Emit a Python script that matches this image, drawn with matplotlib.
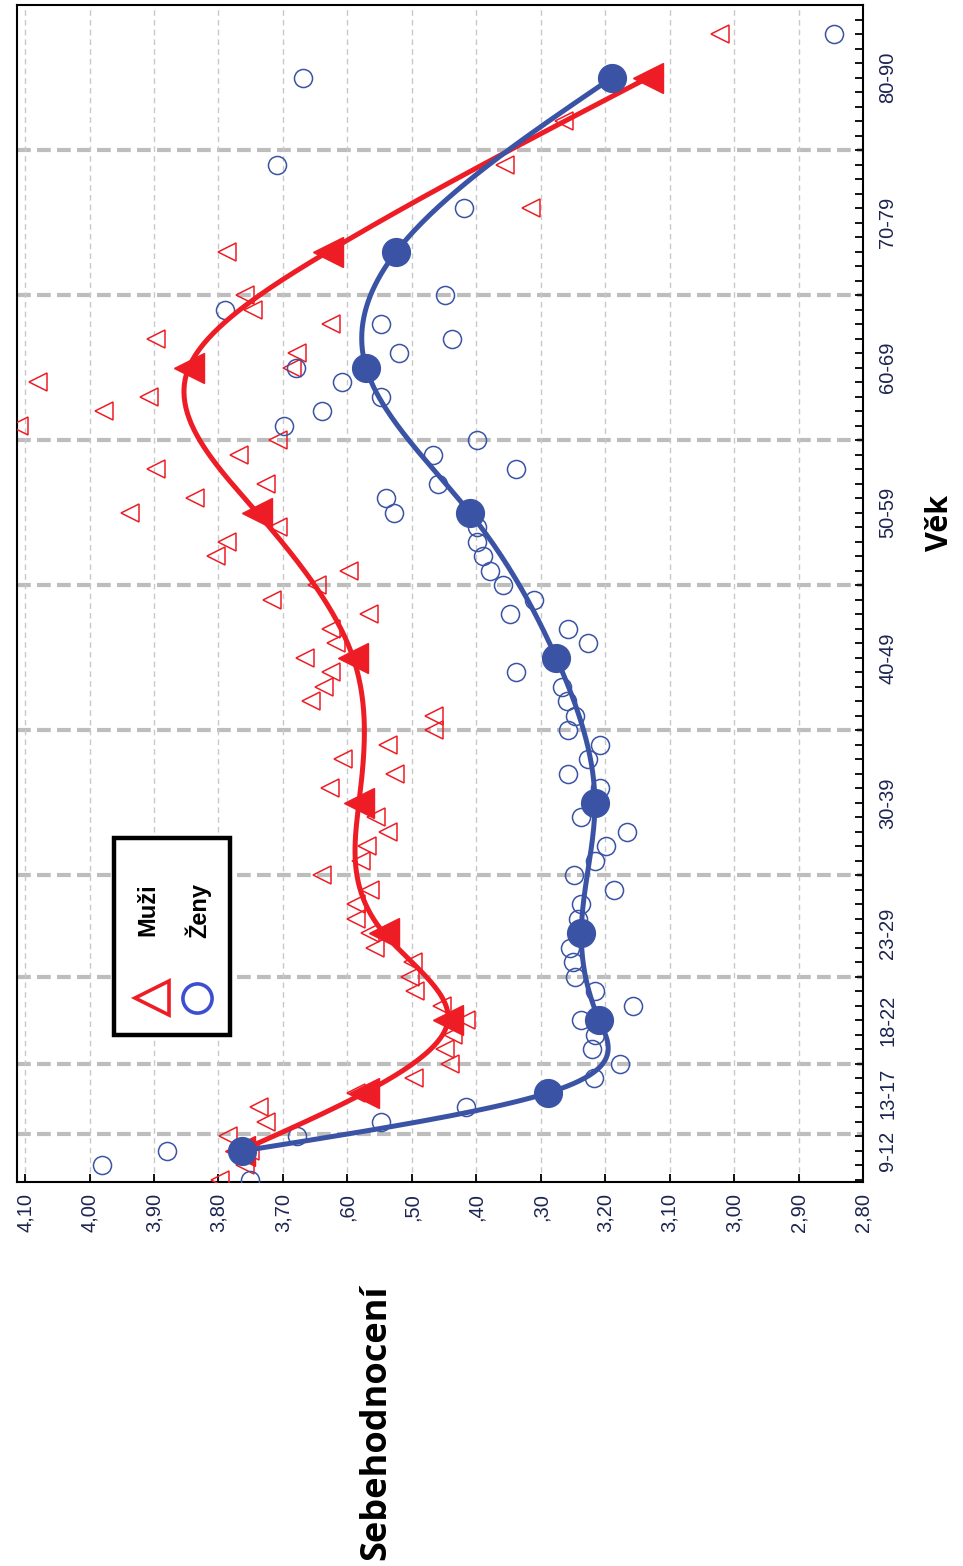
import numpy as np
import matplotlib
matplotlib.use('Agg')
from matplotlib import pyplot as plt
from matplotlib.patches import Rectangle

plt.rcParams['font.family'] = ['Liberation Sans', 'DejaVu Sans']

# single points (age, self-esteem score)
muzi_age = list(range(9, 71)) + [73, 76, 79, 82, 85, 88]
muzi_val = [3.797, 3.759, 3.751, 3.785, 3.726, 3.737, 3.586, 3.497, 3.441, 3.448,
            3.436, 3.416, 3.453, 3.495, 3.503, 3.498, 3.557, 3.565, 3.586, 3.586,
            3.565, 3.639, 3.579, 3.569, 3.537, 3.556, 3.577, 3.627, 3.526, 3.607,
            3.537, 3.465, 3.465, 3.656, 3.636, 3.625, 3.666, 3.618, 3.625, 3.566,
            3.717, 3.647, 3.597, 3.804, 3.787, 3.708, 3.937, 3.836, 3.726, 3.897,
            3.768, 3.708, 4.109, 3.977, 3.908, 4.080, 3.686, 3.678, 3.897, 3.625,
            3.746, 3.759,
            3.787, 3.315, 3.355, 3.264, 3.126, 3.022]
zeny_age = list(range(9, 71)) + [73, 76, 79, 85, 88]
zeny_val = [3.751, 3.981, 3.880, 3.678, 3.548, 3.416, 3.286, 3.217, 3.177, 3.220,
            3.216, 3.237, 3.157, 3.216, 3.247, 3.250, 3.254, 3.231, 3.242, 3.237,
            3.186, 3.248, 3.216, 3.199, 3.166, 3.237, 3.211, 3.208, 3.258, 3.227,
            3.208, 3.258, 3.247, 3.259, 3.267, 3.338, 3.276, 3.227, 3.258, 3.348,
            3.310, 3.358, 3.379, 3.389, 3.399, 3.399, 3.528, 3.540, 3.459, 3.338,
            3.467, 3.399, 3.698, 3.639, 3.548, 3.608, 3.680, 3.520, 3.438, 3.548,
            3.790, 3.448,
            3.518, 3.419, 3.709, 3.669, 2.845]

# group means
mean_age = [11, 15, 20, 26, 35, 45, 55, 65, 73, 85]
muzi_mean = [3.766, 3.574, 3.444, 3.543, 3.582, 3.591, 3.740, 3.846, 3.630, 3.133]
zeny_mean = [3.763, 3.289, 3.209, 3.237, 3.216, 3.276, 3.410, 3.571, 3.524, 3.189]

age_groups = ['9-12', '13-17', '18-22', '23-29', '30-39', '40-49', '50-59',
              '60-69', '70-79', '80-90']
group_pos = [11, 15, 20, 26, 35, 45, 55, 65, 75, 85]
group_bounds = [12.2, 17, 23, 30, 40, 50, 60, 70, 80]

val_ticks = [4.10, 4.00, 3.90, 3.80, 3.70, 3.60, 3.50, 3.40, 3.30, 3.20, 3.10,
             3.00, 2.90, 2.80]
val_labels = ['4,10', '4,00', '3,90', '3,80', '3,70', ',60', ',50', ',40', ',30',
              '3,20', '3,10', '3,00', '2,90', '2,80']

RED = '#ee1c25'
BLUE = '#3a53a4'
TXT = '#1c2450'


def natural_spline(x, y, xs):
    x = np.asarray(x, float)
    y = np.asarray(y, float)
    n = len(x)
    h = np.diff(x)
    A = np.zeros((n - 2, n - 2))
    r = np.zeros(n - 2)
    for i in range(n - 2):
        A[i, i] = 2 * (h[i] + h[i + 1])
        if i < n - 3:
            A[i, i + 1] = h[i + 1]
            A[i + 1, i] = h[i + 1]
        r[i] = 6 * ((y[i + 2] - y[i + 1]) / h[i + 1] - (y[i + 1] - y[i]) / h[i])
    M = np.zeros(n)
    M[1:-1] = np.linalg.solve(A, r)
    k = np.clip(np.searchsorted(x, xs) - 1, 0, n - 2)
    hk = h[k]
    a = x[k + 1] - xs
    b = xs - x[k]
    return (M[k] * a ** 3 / (6 * hk) + M[k + 1] * b ** 3 / (6 * hk)
            + (y[k] / hk - M[k] * hk / 6) * a + (y[k + 1] / hk - M[k + 1] * hk / 6) * b)


fig = plt.figure(figsize=(9.63, 15.66), dpi=100)
ax = fig.add_axes([0.0177, 0.2452, 0.8785, 0.7516])

ax.set_xlim(4.1124, 2.80)
ax.set_ylim(8.86, 90.0)

# grid
ax.set_xticks(val_ticks)
ax.set_xticklabels(val_labels, rotation=90, fontsize=14.5, color=TXT)
ax.grid(axis='x', color='#c8c8c8', lw=1, linestyle=(0, (4, 3)))
for b in group_bounds:
    ax.axhline(b, color='#bdbdbd', lw=3, linestyle=(0, (3.3, 1.5)), zorder=1)

# scatter
ax.plot(muzi_val, muzi_age, linestyle='none', marker='<', ms=13, mfc='none',
        mec=RED, mew=1.1, zorder=3)
ax.plot(zeny_val, zeny_age, linestyle='none', marker='o', ms=13, mfc='none',
        mec=BLUE, mew=1.1, zorder=3)

# smooth lines through the means
fine = np.linspace(mean_age[0], mean_age[-1], 400)
ax.plot(natural_spline(mean_age, muzi_mean, fine), fine, color=RED, lw=3.6, zorder=4)
ax.plot(natural_spline(mean_age, zeny_mean, fine), fine, color=BLUE, lw=3.6, zorder=5)
ax.plot(muzi_mean, mean_age, linestyle='none', marker='<', ms=22, color=RED, zorder=6)
ax.plot(zeny_mean, mean_age, linestyle='none', marker='o', ms=20, color=BLUE, zorder=7)

# age axis on the right
ax.yaxis.tick_right()
ax.yaxis.remove_overlapping_locs = False
ax.set_yticks(np.arange(9, 91))
ax.set_yticklabels([])
ax.set_yticks(group_pos, minor=True)
ax.set_yticklabels(age_groups, minor=True, rotation=90, fontsize=14.5, color=TXT,
                   va='center')
ax.tick_params(axis='y', which='major', direction='in', length=6, width=1.3)
ax.tick_params(axis='y', which='minor', length=0, pad=11)
ax.tick_params(axis='x', direction='in', length=6, width=1.3, pad=8)
for s in ax.spines.values():
    s.set_linewidth(1.5)

# legend box
ax.add_patch(Rectangle((0.1147, 0.1249), 0.137, 0.1674, transform=ax.transAxes,
                       fc='white', ec='black', lw=3.2, zorder=10))
ax.plot([0.1596], [0.1563], transform=ax.transAxes, marker='<', ms=25, mfc='none',
        mec=RED, mew=2.6, zorder=11)
ax.plot([0.2128], [0.1563], transform=ax.transAxes, marker='o', ms=21, mfc='none',
        mec='#3d4fd0', mew=2.6, zorder=11)
ax.text(0.1548, 0.2311, 'Muži', transform=ax.transAxes, rotation=90, fontsize=17,
        fontweight='bold', ha='center', va='center', zorder=11)
ax.text(0.2140, 0.2311, 'Ženy', transform=ax.transAxes, rotation=90, fontsize=17,
        fontweight='bold', ha='center', va='center', zorder=11)

fig.text(0.3905, 0.092, 'Sebehodnocení', rotation=90, fontsize=26, fontweight='bold',
         family=['Open Sans', 'DejaVu Sans'], ha='center', va='center')
fig.text(0.976, 0.666, 'Věk', rotation=90, fontsize=22, fontweight='bold',
         family=['Open Sans', 'DejaVu Sans'], ha='center', va='center')

fig.savefig('out.png', dpi=100)
